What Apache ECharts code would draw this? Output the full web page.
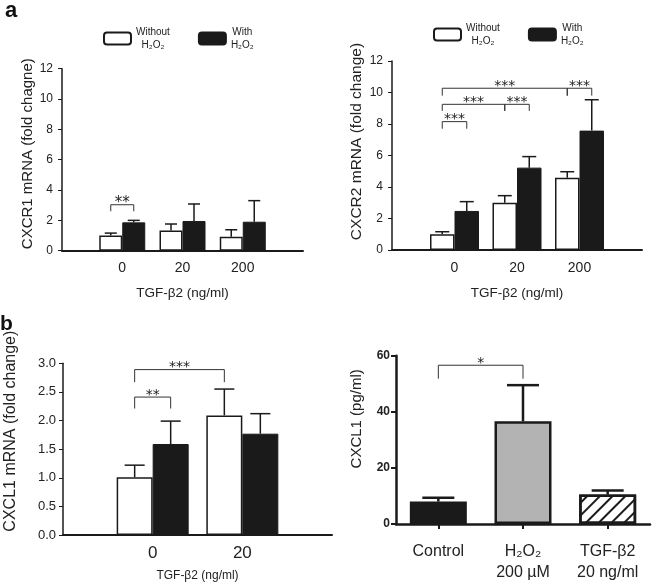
<!DOCTYPE html>
<html><head><meta charset="utf-8">
<script src="https://cdn.jsdelivr.net/npm/echarts@6/dist/echarts.min.js"></script>
<style>html,body{margin:0;padding:0;background:#fff}#c{width:654px;height:583px}</style>
</head><body><div id="c"></div>
<script>
// ---- data ----
const doseA = ['0', '20', '200'];
const cxcr1Without = [1.00, 1.34, 0.92];
const cxcr1WithoutSEM = [0.16, 0.42, 0.46];
const cxcr1With = [1.87, 1.96, 1.91];
const cxcr1WithSEM = [0.13, 1.12, 1.39];
// [fromDose, fromSeries, toDose, toSeries, top, bottom, label]
const cxcr1Brackets = [[0, 0, 0, 1, 3.03, 2.60, '**']];

const cxcr2Without = [1.00, 3.00, 4.59];
const cxcr2WithoutSEM = [0.16, 0.45, 0.38];
const cxcr2With = [2.48, 5.23, 7.58];
const cxcr2WithSEM = [0.59, 0.70, 1.96];
const cxcr2Brackets = [
  [0, 0, 0, 1, 8.15, 7.70, '***'],
  [0, 0, 1, 0, 9.25, 8.83, '***'],
  [1, 0, 1, 1, 9.25, 8.83, '***'],
  [0, 0, 2, 0, 10.27, 9.80, '***'],
  [2, 0, 2, 1, 10.27, 9.80, '***']
];

const doseB = ['0', '20'];
const cxcl1Without = [1.01, 2.09];
const cxcl1WithoutSEM = [0.21, 0.46];
const cxcl1With = [1.59, 1.77];
const cxcl1WithSEM = [0.40, 0.35];
const cxcl1Brackets = [
  [0, 0, 0, 1, 2.41, 2.21, '**'],
  [0, 0, 1, 0, 2.89, 2.67, '***']
];

const treatments = ['Control', 'H₂O₂\n200 µM', 'TGF-β2\n20 ng/ml'];
const cxcl1Protein = [8.0, 36.6, 10.5];
const cxcl1ProteinSEM = [1.4, 12.9, 1.4];
const proteinBrackets = [[0, 0, 1, 0, 56.6, 51.8, '*']];

const seriesNames = ['Without H₂O₂', 'With H₂O₂'];
const legendLines = { 'Without H₂O₂': ['Without', 'H₂O₂'], 'With H₂O₂': ['With', 'H₂O₂'] };

// ---- helpers ----
const FONT = 'Liberation Sans, Arial, sans-serif';
const INK = '#1a1a1a';
const TXT = '#222';
const pad = arr => ['-', ...arr, '-'];

function errSeries(ax, values, sems, padN, s, n, bw, cap, lw) {
  const off = (s - (n - 1) / 2) * bw;
  return {
    type: 'custom', xAxisIndex: ax, yAxisIndex: ax, z: 4, silent: true,
    encode: { x: 0, y: 1 },
    data: values.map((v, i) => [i + padN, v, v + sems[i]]),
    renderItem(params, api) {
      const x = api.value(0);
      const p0 = api.coord([x, api.value(1)]);
      const p1 = api.coord([x, api.value(2)]);
      const cx = p0[0] + off;
      const st = { stroke: INK, lineWidth: lw };
      return { type: 'group', children: [
        { type: 'line', shape: { x1: cx, y1: p0[1], x2: cx, y2: p1[1] }, style: st },
        { type: 'line', shape: { x1: cx - cap, y1: p1[1], x2: cx + cap, y2: p1[1] }, style: st }
      ] };
    }
  };
}

function bracketSeries(ax, brackets, padN, n, bw, fs) {
  const off = s => (s - (n - 1) / 2) * bw;
  return {
    type: 'custom', xAxisIndex: ax, yAxisIndex: ax, z: 5, silent: true,
    encode: { x: 0, y: 1 },
    data: brackets.map(b => [b[0] + padN, b[4]]),
    renderItem(params, api) {
      const b = brackets[params.dataIndex];
      const a = api.coord([b[0] + padN, b[4]]);
      const c = api.coord([b[2] + padN, b[4]]);
      const d = api.coord([b[0] + padN, b[5]]);
      const x1 = a[0] + off(b[1]);
      const x2 = c[0] + off(b[3]);
      const yT = a[1], yB = d[1];
      const st = { stroke: '#333', lineWidth: 1 };
      return { type: 'group', children: [
        { type: 'polyline', shape: { points: [[x1, yB], [x1, yT], [x2, yT], [x2, yB]] }, style: Object.assign({ fill: null }, st) },
        { type: 'text', style: { text: b[6], x: (x1 + x2) / 2, y: yT - 2, textAlign: 'center', textVerticalAlign: 'middle',
          font: fs + 'px DejaVu Sans', fill: '#222' } }
      ] };
    }
  };
}

function groupedBars(ax, wo, wi, bw) {
  return [
    { type: 'bar', name: seriesNames[0], xAxisIndex: ax, yAxisIndex: ax, data: pad(wo), barWidth: bw, barGap: '0%',
      itemStyle: { color: '#fff', borderColor: INK, borderWidth: 1.5 }, z: 3 },
    { type: 'bar', name: seriesNames[1], xAxisIndex: ax, yAxisIndex: ax, data: pad(wi), barWidth: bw, barGap: '0%',
      itemStyle: { color: INK, borderColor: INK, borderWidth: 1 }, z: 3 }
  ];
}

function yAxisCfg(ax, max, interval, name, o) {
  return {
    gridIndex: ax, type: 'value', min: 0, max: max, interval: interval,
    splitLine: { show: false },
    axisLine: { show: true, lineStyle: { color: INK, width: o.lw } },
    axisTick: { show: true, length: o.tick, lineStyle: { color: INK, width: o.tw || 1 } },
    axisLabel: { fontSize: o.lfs, color: TXT, margin: o.margin, fontFamily: FONT, fontWeight: o.bold ? 'bold' : 'normal',
      formatter: o.fmt || (v => String(v)) },
    name: name, nameLocation: 'middle', nameRotate: 90, nameGap: o.gap,
    nameTextStyle: { fontSize: o.nfs, color: TXT, fontFamily: FONT, padding: [0, 0, 0, o.shift * 2] }
  };
}

function xAxisCfg(ax, cats, o) {
  return {
    gridIndex: ax, type: 'category', data: cats, boundaryGap: o.bg,
    axisLine: { show: true, lineStyle: { color: INK, width: o.lw } },
    axisTick: o.tick ? { show: true, alignWithLabel: true, length: 5, lineStyle: { color: INK, width: 2 } } : { show: false },
    axisLabel: { fontSize: o.lfs, color: TXT, margin: o.margin, interval: 0, fontFamily: FONT, lineHeight: o.lh },
    name: o.name || '', nameLocation: 'middle', nameGap: o.gap || 0,
    nameTextStyle: { fontSize: o.nfs || 12, color: TXT, fontFamily: FONT }
  };
}

function legendCfg(left, top) {
  return {
    left: left, top: top, padding: 0, orient: 'horizontal', itemWidth: 27, itemHeight: 12, itemGap: 28,
    data: seriesNames, selectedMode: false,
    formatter: name => legendLines[name].map(t => '{t|' + t + '}').join('\n'),
    textStyle: { rich: { t: { fontSize: 10, lineHeight: 13, align: 'center', color: TXT, fontFamily: FONT } } }
  };
}

const option = {
  backgroundColor: '#fff',
  animation: false,
  textStyle: { fontFamily: FONT },
  grid: [
    { left: 62, top: 68.7, width: 241, height: 182 },
    { left: 392, top: 61, width: 250, height: 189 },
    { left: 63, top: 363.3, width: 269, height: 172 },
    { left: 396, top: 355.7, width: 254, height: 170 }
  ],
  legend: [legendCfg(103, 27), legendCfg(433, 23)],
  xAxis: [
    xAxisCfg(0, ['', ...doseA, ''], { bg: false, lw: 2, lfs: 14, margin: 10, name: 'TGF-β2 (ng/ml)', gap: 36, nfs: 13.5 }),
    xAxisCfg(1, ['', ...doseA, ''], { bg: false, lw: 2, lfs: 14, margin: 11, name: 'TGF-β2 (ng/ml)', gap: 36, nfs: 13.5 }),
    xAxisCfg(2, ['', ...doseB, ''], { bg: false, lw: 2, lfs: 17, margin: 10, name: 'TGF-β2 (ng/ml)', gap: 35, nfs: 12 }),
    xAxisCfg(3, treatments, { bg: true, lw: 2.5, lfs: 16, margin: 17, lh: 21, tick: true })
  ],
  yAxis: [
    yAxisCfg(0, 12, 2, 'CXCR1 mRNA (fold chagne)', { lw: 1.5, tick: 4, lfs: 12, margin: 9, gap: 24, nfs: 15, shift: 6 }),
    yAxisCfg(1, 12, 2, 'CXCR2 mRNA (fold change)', { lw: 1.5, tick: 4, lfs: 12, margin: 9, gap: 27, nfs: 15.5, shift: 14 }),
    yAxisCfg(2, 3, 0.5, 'CXCL1 mRNA (fold change)', { lw: 1.5, tick: 4, lfs: 13, margin: 7, gap: 44, nfs: 16, shift: 18, fmt: v => v.toFixed(1) }),
    yAxisCfg(3, 60, 20, 'CXCL1 (pg/ml)', { lw: 2.5, tick: 5, tw: 2, lfs: 12, margin: 6, gap: 32, nfs: 15, shift: 21, bold: true })
  ],
  graphic: [
    { type: 'text', left: 5, top: 0, style: { text: 'a', font: 'bold 22px Liberation Sans', fill: '#111' } },
    { type: 'text', left: 0, top: 314, style: { text: 'b', font: 'bold 21px Liberation Sans', fill: '#111' } }
  ],
  series: [
    ...groupedBars(0, cxcr1Without, cxcr1With, 23),
    errSeries(0, cxcr1Without, cxcr1WithoutSEM, 1, 0, 2, 23, 6, 1.5),
    errSeries(0, cxcr1With, cxcr1WithSEM, 1, 1, 2, 23, 6, 1.5),
    bracketSeries(0, cxcr1Brackets, 1, 2, 23, 15),

    ...groupedBars(1, cxcr2Without, cxcr2With, 24.5),
    errSeries(1, cxcr2Without, cxcr2WithoutSEM, 1, 0, 2, 24.5, 7, 1.5),
    errSeries(1, cxcr2With, cxcr2WithSEM, 1, 1, 2, 24.5, 7, 1.5),
    bracketSeries(1, cxcr2Brackets, 1, 2, 24.5, 14),

    ...groupedBars(2, cxcl1Without, cxcl1With, 36),
    errSeries(2, cxcl1Without, cxcl1WithoutSEM, 1, 0, 2, 36, 10, 1.5),
    errSeries(2, cxcl1With, cxcl1WithSEM, 1, 1, 2, 36, 10, 1.5),
    bracketSeries(2, cxcl1Brackets, 1, 2, 36, 14),

    { type: 'bar', name: 'CXCL1', xAxisIndex: 3, yAxisIndex: 3, barWidth: 57, z: 3,
      data: cxcl1Protein.map((v, i) => ({
        value: v,
        itemStyle: [
          { color: INK, borderColor: INK, borderWidth: 2.5 },
          { color: '#b3b3b3', borderColor: INK, borderWidth: 2.5 },
          { color: '#fff', borderColor: INK, borderWidth: 2.5,
            decal: { symbol: 'rect', symbolSize: 1, color: INK, dashArrayX: [1, 0], dashArrayY: [2, 7], rotation: -Math.PI / 4 } }
        ][i]
      })) },
    errSeries(3, cxcl1Protein, cxcl1ProteinSEM, 0, 0, 1, 57, 16, 2.5),
    bracketSeries(3, proteinBrackets, 0, 1, 57, 14)
  ]
};

const chart = echarts.init(document.getElementById('c'), null, { renderer: 'canvas' });
chart.setOption(option);
</script>
</body></html>
